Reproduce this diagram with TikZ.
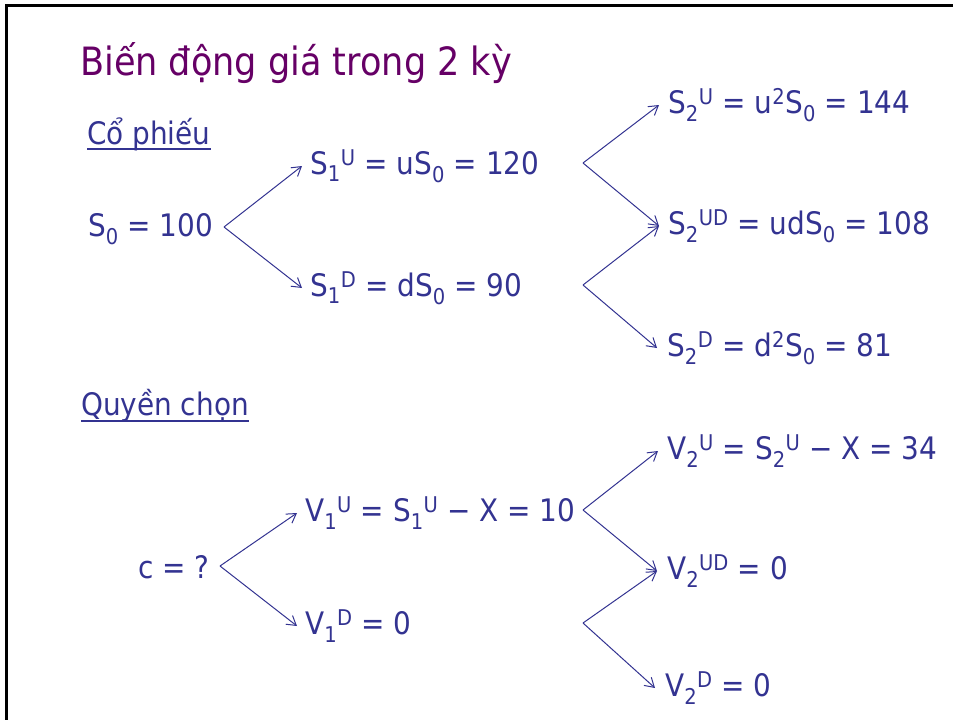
\documentclass[tikz,border=0pt]{standalone}
\usepackage{fontspec}
\setmainfont{DejaVu Sans Condensed}
\usetikzlibrary{positioning,arrows.meta}

\definecolor{textblue}{RGB}{51,51,145}
\definecolor{titlepurple}{RGB}{102,0,102}

\newcommand{\up}[2]{#1\textsubscript{#2}\textsuperscript{U}}
\newcommand{\dn}[2]{#1\textsubscript{#2}\textsuperscript{D}}
\newcommand{\ud}[2]{#1\textsubscript{#2}\textsuperscript{UD}}

\begin{document}
\begin{tikzpicture}[x=1pt, y=-1pt,
    every node/.style={inner sep=0pt, anchor=west, text=textblue, font=\fontsize{31}{36}\selectfont},
    arrow/.style={-{Straight Barb[length=9pt, width=11pt]}, textblue, line width=1pt},
    heading/.style={font=\fontsize{31}{36}\selectfont}]

\useasboundingbox (0,0) rectangle (953,720);
%khung slide
\draw[line width=3pt] (6,720) -- (6,5) -- (953,5);

%tieu de
\node (title) at (80,63) [text=titlepurple, font=\fontsize{39}{46}\selectfont] {Biến động giá trong 2 kỳ};

%co phieu
\node (cp) at (87,134) [heading] {Cổ phiếu};
\draw[textblue, line width=1.5pt] ([yshift=-5pt]cp.base west) -- ([yshift=-5pt]cp.base east);

\node (s0) at (88,229) {S\textsubscript{0} = 100};
\node (s1u) at (310,166) {\up{S}{1} = uS\textsubscript{0} = 120};
\node (s1d) at (310,288) {\dn{S}{1} = dS\textsubscript{0} = 90};
\node (s2u) at (668,105) {S\textsubscript{2}\textsuperscript{U} = u\textsuperscript{2}S\textsubscript{0} = 144};
\node (s2ud) at (668,226) {\ud{S}{2} = udS\textsubscript{0} = 108};
\node (s2d) at (667,348) {\dn{S}{2} = d\textsuperscript{2}S\textsubscript{0} = 81};

\coordinate (s0r) at (224,227);
\coordinate (s1ur) at (583,163);
\coordinate (s1dr) at (583,285);

\draw[arrow] (s0r) -- ([xshift=-8pt]s1u.west);
\draw[arrow] (s0r) -- ([xshift=-8pt]s1d.west);
\draw[arrow] (s1ur) -- ([xshift=-9pt]s2u.west);
\draw[arrow] (s1ur) -- ([xshift=-9pt]s2ud.west);
\draw[arrow] (s1dr) -- ([xshift=-9pt]s2ud.west);
\draw[arrow] (s1dr) -- ([xshift=-10pt]s2d.west);

%quyen chon
\node (qc) at (81,406) [heading] {Quyền chọn};
\draw[textblue, line width=1.5pt] ([yshift=-5pt]qc.base west) -- ([yshift=-5pt]qc.base east);

\node (c) at (138,567) {c = ?};
\node (v1u) at (305,513) {\up{V}{1} = \up{S}{1} − X = 10};
\node (v1d) at (305,626) {\dn{V}{1} = 0};
\node (v2u) at (667,451) {\up{V}{2} = \up{S}{2} − X = 34};
\node (v2ud) at (667,571) {\ud{V}{2} = 0};
\node (v2d) at (665,688) {\dn{V}{2} = 0};

\coordinate (cr) at (220,566);
\coordinate (v1ur) at (583,510);
\coordinate (v1dr) at (583,623);

\draw[arrow] (cr) -- ([xshift=-8pt]v1u.west);
\draw[arrow] (cr) -- ([xshift=-8pt]v1d.west);
\draw[arrow] (v1ur) -- ([xshift=-9pt]v2u.west);
\draw[arrow] (v1ur) -- ([xshift=-10pt]v2ud.west);
\draw[arrow] (v1dr) -- ([xshift=-10pt]v2ud.west);
\draw[arrow] (v1dr) -- ([xshift=-10pt]v2d.west);

\end{tikzpicture}
\end{document}
